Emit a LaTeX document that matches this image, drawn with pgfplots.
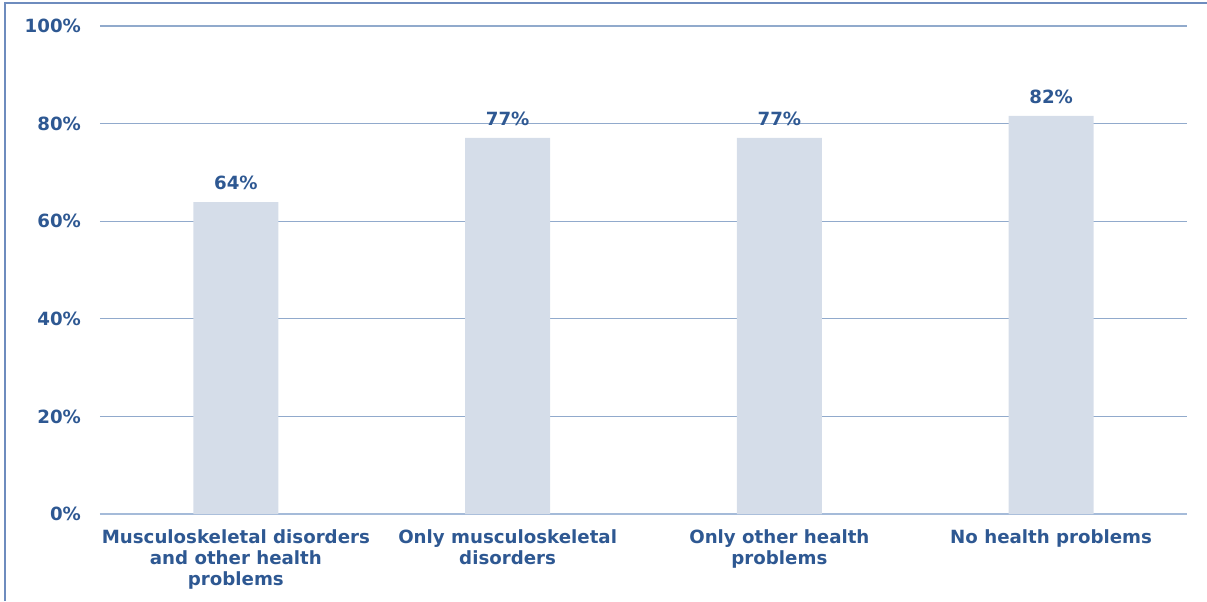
\documentclass[border=0pt]{standalone}
\usepackage{pgfplots}
\pgfplotsset{compat=1.18}
\usepackage{fontspec}
\setmainfont{DejaVu Sans}
\definecolor{txt}{RGB}{46,88,146}
\definecolor{barc}{RGB}{213,221,233}
\definecolor{gridc}{RGB}{145,170,204}
\definecolor{axc}{RGB}{165,187,217}
\definecolor{framec}{RGB}{110,140,190}
\begin{document}
\begin{tikzpicture}
\path[use as bounding box] (-50pt,-43.5pt) rectangle (553.5pt,257pt);
\draw[framec, line width=0.8pt] (-47.5pt,-43.5pt) -- (-47.5pt,255.5pt) -- (553.5pt,255.5pt);
\begin{axis}[at={(0,0)}, anchor=south west, scale only axis,
  width=543.5pt, height=244pt,
  xmin=-0.5, xmax=3.5, ymin=0, ymax=100,
  ybar, bar width=0.313, 
  axis x line*=bottom, axis y line*=left,
  x axis line style={draw=axc, line width=0.9pt, -},
  y axis line style={draw=none},
  ymajorgrids, grid style={draw=gridc, line width=0.6pt},
  major tick length=0, tick style={draw=none},
  xtick={0,1,2,3},
  xticklabels={{Musculoskeletal disorders\\and other health\\problems},{Only musculoskeletal\\disorders},{Only other health\\problems},{No health problems}},
  xticklabel style={align=center, text=txt, font=\fontsize{9.1pt}{10.5pt}\selectfont\bfseries, yshift=-4.5pt},
  ytick={0,20,40,60,80,100},
  yticklabels={0\%,20\%,40\%,60\%,80\%,100\%},
  yticklabel style={text=txt, font=\fontsize{9.1pt}{10.5pt}\selectfont\bfseries, xshift=-6pt},
  point meta=explicit symbolic,
  nodes near coords,
  nodes near coords style={text=txt, font=\fontsize{9.1pt}{10.5pt}\selectfont\bfseries, yshift=2.5pt},
]
\addplot[fill=barc, draw=none] coordinates {(0,63.9) [64\%] (1,77.1) [77\%] (2,77.1) [77\%] (3,81.6) [82\%]};
\end{axis}
\end{tikzpicture}
\end{document}
